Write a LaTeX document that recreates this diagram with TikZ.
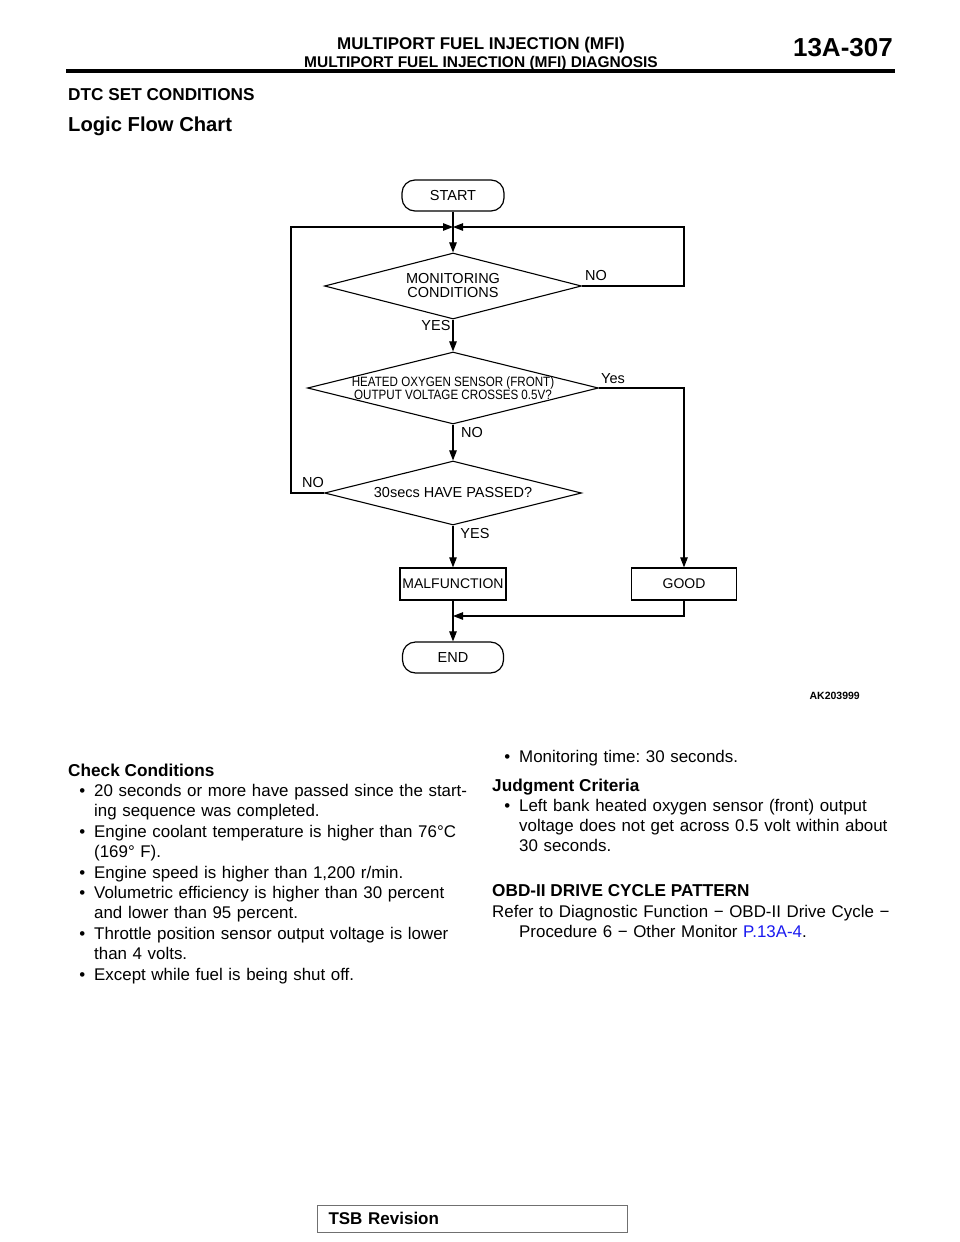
\documentclass[tikz,border=0pt]{standalone}
\usepackage{fontspec}
\setmainfont{Liberation Sans}
\usetikzlibrary{arrows.meta,shapes.geometric,calc}
\definecolor{linkblue}{HTML}{1A1AF0}
\definecolor{framegray}{HTML}{707070}
\newcommand{\bul}{\llap{\textbullet\hspace{9pt}}}
\frenchspacing
\tikzset{
  terminal/.style={
    rectangle,
    rounded corners=13pt,
    draw,
    line width=1.2pt,
    minimum width=102pt,
    minimum height=31pt,
    inner sep=0pt,
    font=\fontsize{14.5}{14.5}\selectfont
  },
  process/.style={
    rectangle,
    draw,
    line width=1.3pt,
    minimum width=106pt,
    minimum height=32pt,
    inner sep=0pt,
    font=\fontsize{14}{14}\selectfont
  },
  decision/.style={
    diamond,
    draw,
    line width=1.1pt,
    inner sep=0pt,
    minimum width=257pt,
    minimum height=66pt
  },
  flowtext/.style={align=center,inner sep=0pt,font=\fontsize{14.5}{14}\selectfont},
  tag/.style={inner sep=0pt,font=\fontsize{14.5}{14.5}\selectfont},
  flow/.style={-{Triangle[length=10pt,width=7.5pt]},line width=1.05pt},
  item/.style={anchor=base west,inner sep=0pt,align=left,text width=420pt,
    font=\fontsize{16.9}{20.4}\selectfont},
  head/.style={anchor=base west,inner sep=0pt,font=\fontsize{17.2}{20.4}\selectfont\bfseries}
}

\begin{document}
\begin{tikzpicture}[x=1pt,y=-1pt]
  \fill[white] (0,0) rectangle (960,1242);
  \useasboundingbox (0,0) rectangle (960,1242);

  % page header
  \node[anchor=base,inner sep=0pt,font=\fontsize{17}{17}\selectfont\bfseries] (title) at (481,49.5) {MULTIPORT FUEL INJECTION (MFI)};
  \node[anchor=base,inner sep=0pt,font=\fontsize{15.5}{15.5}\selectfont\bfseries] (subtitle) at (481,67) {MULTIPORT FUEL INJECTION (MFI) DIAGNOSIS};
  \node[anchor=base east,inner sep=0pt,font=\fontsize{26}{26}\selectfont\bfseries] (pageno) at (893,56.5) {13A-307};
  \draw[line width=3.2pt] (66,71) -- (895,71);

  \node[head] (dtchead) at (68,100) {DTC SET CONDITIONS};
  \node[head,font=\fontsize{20.2}{24}\selectfont\bfseries] (charthead) at (68,131) {Logic Flow Chart};

  % flow chart
  \node[terminal] (start) at (453,195.5) {START};
  \coordinate (loop) at (453,227);
  \node[decision,label={[flowtext]center:{MONITORING\\CONDITIONS}}] (monitor) at (453,286) {};
  \node[decision,minimum width=291pt,minimum height=72pt,
    label={[flowtext,font=\fontsize{13.5}{12}\selectfont]center:{\scalebox{0.86}[1]{HEATED OXYGEN SENSOR (FRONT)}\\\scalebox{0.86}[1]{OUTPUT VOLTAGE CROSSES 0.5V?}}}] (sensor) at (453,388) {};
  \node[decision,minimum height=64pt,label={[flowtext]center:{30secs HAVE PASSED?}}] (passed) at (453,493) {};
  \node[process] (malf) at (453,584) {MALFUNCTION};
  \node[process,minimum width=105pt] (good) at (684,584) {GOOD};
  \coordinate (merge) at (453,616);
  \node[terminal,minimum width=101pt] (finish) at (453,657.5) {END};

  \draw[flow] (start) -- (monitor.north);
  \draw[flow] (monitor.east) -- (684,286) |- (loop);
  \draw[flow] (passed.west) -- (291,493) |- (loop);
  \draw[flow] (monitor.south) -- (sensor.north);
  \draw[flow] (sensor.east) -| (good.north);
  \draw[flow] (sensor.south) -- (passed.north);
  \draw[flow] (passed.south) -- (malf.north);
  \draw[flow] (good.south) |- (merge);
  \draw[flow] (malf.south) -- (finish.north);

  \node[tag] (mno) at (596,276) {NO};
  \node[tag] (myes) at (436,326) {YES};
  \node[tag] (syes) at (613,379) {Yes};
  \node[tag] (sno) at (472,433) {NO};
  \node[tag] (pno) at (313,483) {NO};
  \node[tag] (pyes) at (475,534) {YES};

  \node[anchor=base east,inner sep=0pt,font=\fontsize{10.5}{10.5}\selectfont\bfseries] (figno) at (860,699) {AK203999};

  % check conditions
  \node[head] (checkhead) at (68,776) {Check Conditions};
  \node[item] (cc1) at (94,796) {\bul 20 seconds or more have passed since the start-\\ing sequence was completed.};
  \node[item] (cc2) at (94,837) {\bul Engine coolant temperature is higher than 76°C\\(169° F).};
  \node[item] (cc3) at (94,878) {\bul Engine speed is higher than 1,200 r/min.};
  \node[item] (cc4) at (94,898) {\bul Volumetric efficiency is higher than 30 percent\\and lower than 95 percent.};
  \node[item] (cc5) at (94,939) {\bul Throttle position sensor output voltage is lower\\than 4 volts.};
  \node[item] (cc6) at (94,980) {\bul Except while fuel is being shut off.};

  \node[item] (montime) at (519,762) {\bul Monitoring time: 30 seconds.};
  \node[head] (judghead) at (492,791) {Judgment Criteria};
  \node[item] (jc1) at (519,811) {\bul Left bank heated oxygen sensor (front) output\\voltage does not get across 0.5 volt within about\\30 seconds.};
  \node[head] (obdhead) at (492,896) {OBD-II DRIVE CYCLE PATTERN};
  \node[item] (obdref) at (492,917) {Refer to Diagnostic Function − OBD-II Drive Cycle −\\\hspace*{27pt}Procedure 6 − Other Monitor \textcolor{linkblue}{P.13A-4}.};

  % footer
  \node[anchor=west,draw=framegray,line width=1pt,minimum height=27pt,inner xsep=11pt,
    text width=288pt,align=left,font=\fontsize{17}{17}\selectfont\bfseries] (tsb) at (317,1218.5) {TSB Revision};
\end{tikzpicture}
\end{document}
